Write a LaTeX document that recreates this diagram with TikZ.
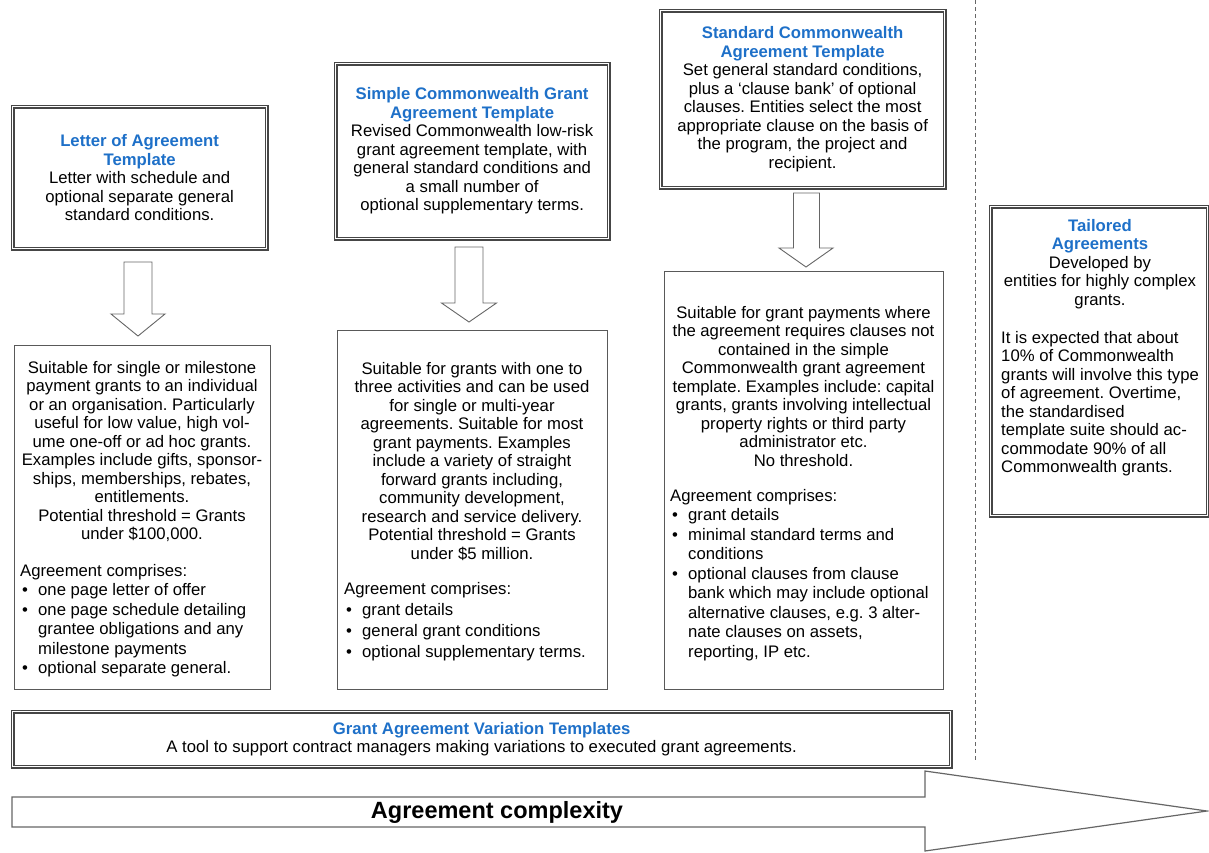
\documentclass[tikz,border=0pt]{standalone}
\usepackage{fontspec}
\setmainfont{Liberation Sans}
\usetikzlibrary{calc}
\definecolor{ttl}{RGB}{30,112,200}
\definecolor{frm}{RGB}{70,70,70}
\newcommand{\ttlf}[1]{{\color{ttl}\bfseries #1}}
\newcommand{\bi}{\hspace*{2pt}\makebox[16pt][l]{\textbullet}}
\newcommand{\bc}{\hspace*{18pt}}
\frenchspacing
\begin{document}
\begin{tikzpicture}[x=1pt,y=-1pt,
  every node/.style={font=\fontsize{16.7}{18.5}\selectfont, inner sep=0pt},
  headbox/.style={draw=frm, line width=1.2pt, double=white, double distance=1.6pt, inner sep=0pt, anchor=north west},
  bodybox/.style={draw=black!65, line width=1pt, inner sep=0pt, anchor=north west},
  ctext/.style={align=center, anchor=north},
  mtext/.style={align=center, anchor=center},
  ltext/.style={align=left, anchor=north west, font=\fontsize{16.7}{19.5}\selectfont},
  hollow/.style={draw=black!60, line width=0.9pt, fill=white, line join=miter},
  bigarrow/.style={draw=black!60, line width=1.2pt, fill=white, line join=miter},
  sep/.style={draw=black!60, line width=0.8pt, dash pattern=on 4pt off 3pt},
]
\useasboundingbox (0,0) rectangle (1209,852);

% head boxes
\node[headbox, minimum width=254pt, minimum height=142pt] (h1) at (12,106) {};
\node[headbox, minimum width=273pt, minimum height=175pt] (h2) at (335,63) {};
\node[headbox, minimum width=284pt, minimum height=177pt] (h3) at (660,10) {};
\node[headbox, minimum width=217pt, minimum height=309pt] (h4) at (990,206) {};

\node[mtext] (h1t) at (h1.center) {\ttlf{Letter of Agreement}\\\ttlf{Template}\\Letter with schedule and\\optional separate general\\standard conditions.};
\node[mtext] (h2t) at (h2.center) {\ttlf{Simple Commonwealth Grant}\\\ttlf{Agreement Template}\\Revised Commonwealth low-risk\\grant agreement template, with\\general standard conditions and\\a small number of\\optional supplementary terms.};
\node[mtext] (h3t) at (h3.center) {\ttlf{Standard Commonwealth}\\\ttlf{Agreement Template}\\Set general standard conditions,\\plus a `clause bank' of optional\\clauses. Entities select the most\\appropriate clause on the basis of\\the program, the project and\\recipient.};
\node[ctext] (h4t) at (1100,219) {\ttlf{Tailored}\\\ttlf{Agreements}\\Developed by\\entities for highly complex\\grants.};
\node[align=left, anchor=north west] (h4l) at (1001,331) {It is expected that about\\10\% of Commonwealth\\grants will involve this type\\of agreement. Overtime,\\the standardised\\template suite should ac-\\commodate 90\% of all\\Commonwealth grants.};

% hollow arrows
\draw[hollow] (124,262) -- (152,262) -- (152,314) -- (165,314) -- (138,336) -- (111,314) -- (124,314) -- cycle;
\draw[hollow] (455,247) -- (483,247) -- (483,303) -- (496.5,303) -- (469,322) -- (441.5,303) -- (455,303) -- cycle;
\draw[hollow] (793.5,193) -- (819.5,193) -- (819.5,248) -- (833,248) -- (806,267) -- (779,248) -- (793.5,248) -- cycle;

% body boxes
\node[bodybox, minimum width=256pt, minimum height=344pt] (b1) at (14,345) {};
\node[bodybox, minimum width=270pt, minimum height=359pt] (b2) at (337,330) {};
\node[bodybox, minimum width=279pt, minimum height=418pt] (b3) at (664,271) {};

\node[ctext] (b1t) at (142,361) {Suitable for single or milestone\\payment grants to an individual\\or an organisation. Particularly\\useful for low value, high vol-\\ume one-off or ad hoc grants.\\Examples include gifts, sponsor-\\ships, memberships, rebates,\\entitlements.\\Potential threshold = Grants\\under \$100,000.};
\node[ltext] (b1l) at (20,564) {Agreement comprises:\\\bi one page letter of offer\\\bi one page schedule detailing\\\bc grantee obligations and any\\\bc milestone payments\\\bi optional separate general.};

\node[ctext] (b2t) at (472,362) {Suitable for grants with one to\\three activities and can be used\\for single or multi-year\\agreements. Suitable for most\\grant payments. Examples\\include a variety of straight\\forward grants including,\\community development,\\research and service delivery.\\Potential threshold = Grants\\under \$5 million.};
\node[ltext, font=\fontsize{16.7}{21}\selectfont] (b2l) at (344,582) {Agreement comprises:\\\bi grant details\\\bi general grant conditions\\\bi optional supplementary terms.};

\node[ctext] (b3t) at (803.5,306) {Suitable for grant payments where\\the agreement requires clauses not\\contained in the simple\\Commonwealth grant agreement\\template. Examples include: capital\\grants, grants involving intellectual\\property rights or third party\\administrator etc.\\No threshold.};
\node[ltext, font=\fontsize{16.7}{19.5}\selectfont] (b3l) at (670,489) {Agreement comprises:\\\bi grant details\\\bi minimal standard terms and\\\bc conditions\\\bi optional clauses from clause\\\bc bank which may include optional\\\bc alternative clauses, e.g. 3 alter-\\\bc nate clauses on assets,\\\bc reporting, IP etc.};

% variation box
\node[headbox, minimum width=938pt, minimum height=55pt] (v) at (12,711) {};
\node[mtext] (vt) at (v.center) {\ttlf{Grant Agreement Variation Templates}\\A tool to support contract managers making variations to executed grant agreements.};

% separator
\coordinate (s1) at (975,0);
\coordinate (s2) at (975,760);
\draw[sep] (s1) -- (s2);

% complexity arrow
\draw[bigarrow] (12,797) -- (925,797) -- (925,771) -- (1207,811) -- (925,851) -- (925,827) -- (12,827) -- cycle;
\node[font=\fontsize{23.5}{26}\selectfont\bfseries] (ac) at (497,812) {Agreement complexity};
\end{tikzpicture}
\end{document}
